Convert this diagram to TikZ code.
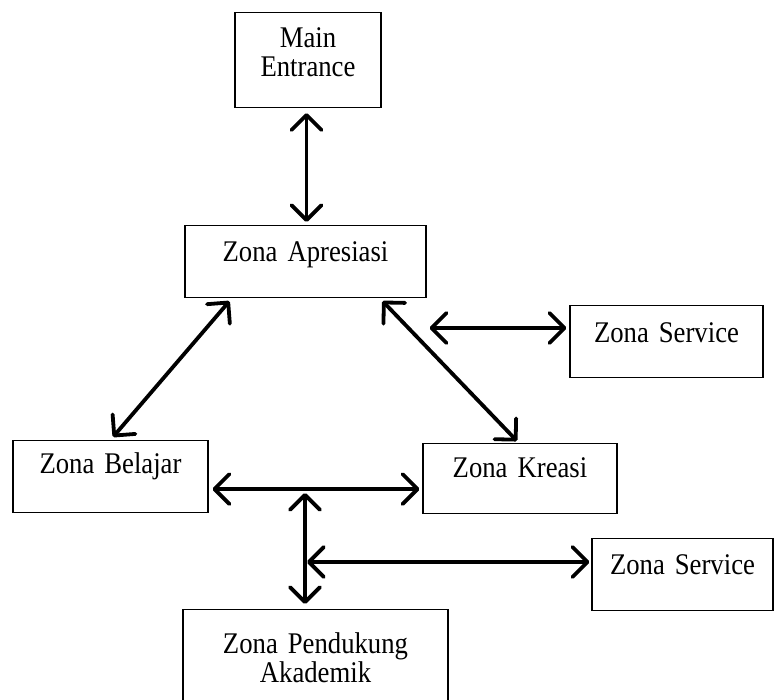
\documentclass[tikz,border=0pt]{standalone}
\usepackage{fontspec}
\setmainfont{Liberation Serif}[FakeStretch=0.89,WordSpace=0.7]
\usetikzlibrary{arrows.meta}
\begin{document}
\begin{tikzpicture}[x=1pt,y=-1pt,
  zone/.style={draw=black, line width=1.1pt, inner sep=0pt, anchor=north,
    align=center, font=\fontsize{30}{29}\selectfont},
  link/.style={line width=3.8pt,
    {Straight Barb[length=15pt,width=30pt,round]}-{Straight Barb[length=15pt,width=30pt,round]}},
]
\useasboundingbox (0,0) rectangle (774,700);
\clip (0,0) rectangle (774,700);

% zones
\node[zone, text width=146pt, text height=35pt, text depth=60pt] (me)   at (308,12)    {Main\\Entrance};
\node[zone, text width=241pt, text height=36pt, text depth=36pt] (apr)  at (305.5,225) {Zona Apresiasi};
\node[zone, text width=193pt, text height=37pt, text depth=35pt] (srv1) at (666.5,305) {Zona Service};
\node[zone, text width=195pt, text height=33pt, text depth=39pt] (bel)  at (110.5,440) {Zona Belajar};
\node[zone, text width=194pt, text height=34pt, text depth=36pt] (kre)  at (520,443)   {Zona Kreasi};
\node[zone, text width=181pt, text height=36pt, text depth=36pt] (srv2) at (682.5,538) {Zona Service};
\node[zone, text width=265pt, text height=44pt, text depth=60pt] (pen)  at (315.5,609) {Zona Pendukung\\Akademik};

% connector end points
\coordinate (a1) at ([xshift=-1.5pt]me.south);
\coordinate (a2) at (a1 |- apr.north);
\coordinate (s1) at ([yshift=-23pt]srv1.north west);
\coordinate (s0) at (apr.east |- s1);
\coordinate (h0) at ([yshift=24pt]bel.south east);
\coordinate (h1) at (h0 -| kre.west);
\coordinate (j1) at (305,488);
\coordinate (j3) at (j1 |- pen.north);
\coordinate (j2) at (305,562);
\coordinate (s2) at ([yshift=-24pt]srv2.north west);

% connectors
\draw[link] ([yshift=-5pt]a1) -- ([yshift=3pt]a2);
\draw[link] ([xshift=45pt,yshift=-3pt]apr.south west) -- ([xshift=2.5pt,yshift=3pt]bel.north);
\draw[link] ([xshift=-44pt,yshift=-3pt]apr.south east) -- ([xshift=-3pt,yshift=2pt]kre.north);
\draw[link] ([xshift=3pt]s0) -- ([xshift=-3pt]s1);
\draw[link] ([xshift=4pt]h0) -- ([xshift=-3pt]h1);
\draw[link] ([yshift=-5pt]j1) -- ([yshift=5pt]j3);
\draw[link] ([xshift=2pt]j2) -- ([xshift=-2pt]s2);
\end{tikzpicture}
\end{document}
